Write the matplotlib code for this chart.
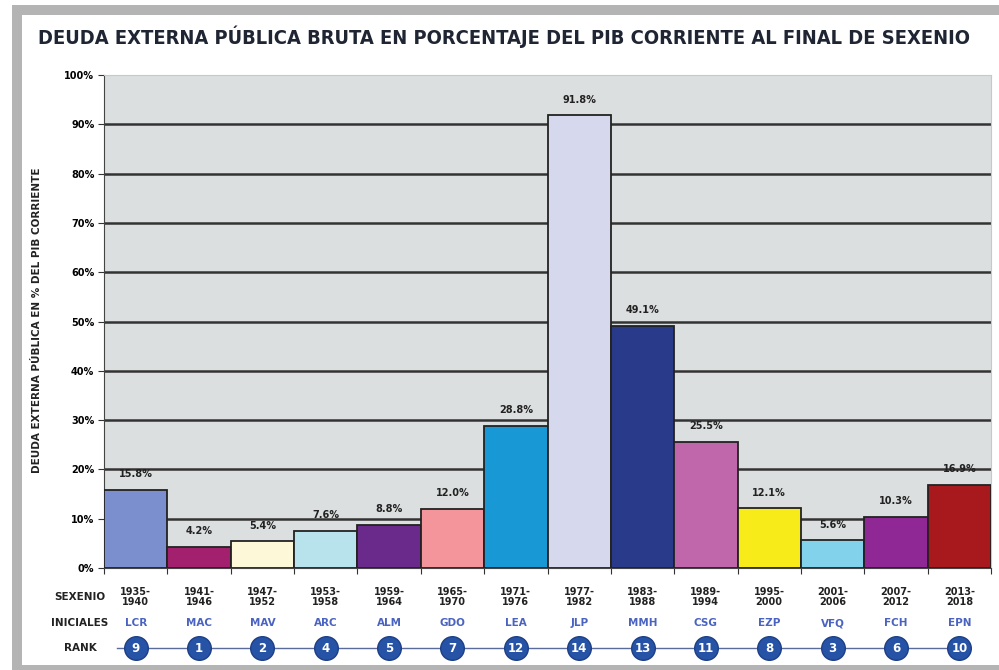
import numpy as np
import matplotlib
matplotlib.use("Agg")
from matplotlib import pyplot as plt
from matplotlib import transforms
from matplotlib.patches import Rectangle

# data
sexenios = ["1935-\n1940", "1941-\n1946", "1947-\n1952", "1953-\n1958", "1959-\n1964",
            "1965-\n1970", "1971-\n1976", "1977-\n1982", "1983-\n1988", "1989-\n1994",
            "1995-\n2000", "2001-\n2006", "2007-\n2012", "2013-\n2018"]
iniciales = ["LCR", "MAC", "MAV", "ARC", "ALM", "GDO", "LEA",
             "JLP", "MMH", "CSG", "EZP", "VFQ", "FCH", "EPN"]
deuda = [15.8, 4.2, 5.4, 7.6, 8.8, 12.0, 28.8, 91.8, 49.1, 25.5, 12.1, 5.6, 10.3, 16.9]
rank = [9, 1, 2, 4, 5, 7, 12, 14, 13, 11, 8, 3, 6, 10]
colores = ["#7b8fcf", "#a3206f", "#fdf8d8", "#b8e3ec", "#6a2a8c", "#f4959c", "#1899d6",
           "#d6d8ee", "#2a3a8a", "#c066ab", "#f7ec1a", "#82d2eb", "#8f2795", "#a8191e"]
yticks = np.arange(0, 101, 10)

W, H = 999, 670
fig = plt.figure(figsize=(W / 100, H / 100), dpi=100)
fig.patch.set_facecolor("white")

# gray frame around the panel (open on the right)
fig.patches.append(Rectangle((12 / W, 0), 1, 1 - 5 / H, transform=fig.transFigure,
                             facecolor="#b4b4b4", edgecolor="none", zorder=-3))
fig.patches.append(Rectangle((22 / W, 5 / H), 1, 1 - 20 / H, transform=fig.transFigure,
                             facecolor="white", edgecolor="none", zorder=-2))

ax = fig.add_axes([104 / W, 1 - 568 / H, (991 - 104) / W, (568 - 75) / H])
ax.set_facecolor("#dcdfe0")

x = np.arange(len(deuda))
# gridlines (none at 100%)
ax.hlines(yticks[1:-1], -0.5, len(deuda) - 0.5, color="#333333", linewidth=1.8, zorder=1)
ax.bar(x, deuda, width=1.0, color=colores, edgecolor="#222222", linewidth=1.3, zorder=3)
for xi, v in zip(x, deuda):
    ax.text(xi, v + 2.2, f"{v:.1f}%", ha="center", va="bottom", fontsize=7,
            fontweight="bold", color="#222222", zorder=4)

ax.set_xlim(-0.5, len(deuda) - 0.5)
ax.set_ylim(0, 100)
ax.set_yticks(yticks)
ax.set_yticklabels([f"{t}%" for t in yticks], fontsize=7, fontweight="bold")
ax.set_xticks(np.arange(len(deuda) + 1) - 0.5)
ax.set_xticklabels([])
ax.tick_params(axis="x", length=4, color="#333333")
ax.tick_params(axis="y", length=4, color="#333333", pad=3)
for s in ["top", "right"]:
    ax.spines[s].set_color("#c8c8c8")
    ax.spines[s].set_linewidth(0.8)
ax.spines["left"].set_color("#444444")
ax.spines["bottom"].set_color("#444444")

fig.text(37 / W, 1 - 320 / H, "DEUDA EXTERNA PÚBLICA EN % DEL PIB CORRIENTE", rotation=90,
         ha="center", va="center", fontsize=7.5, fontweight="bold", color="#222222")

fig.text(504 / W, 1 - 37 / H,
         "DEUDA EXTERNA PÚBLICA BRUTA EN PORCENTAJE DEL PIB CORRIENTE AL FINAL DE SEXENIO",
         ha="center", va="center", fontsize=14.4, fontweight="bold", fontstretch="condensed",
         color="#1f2533")

# table under the chart
tr = transforms.blended_transform_factory(ax.transData, fig.transFigure)
lab_x = 80 / W
fig.text(lab_x, 1 - 597 / H, "SEXENIO", ha="center", va="center", fontsize=7.5,
         fontweight="bold", color="#222222")
fig.text(lab_x, 1 - 623 / H, "INICIALES", ha="center", va="center", fontsize=7.5,
         fontweight="bold", color="#222222")
fig.text(lab_x, 1 - 648 / H, "RANK", ha="center", va="center", fontsize=7.5,
         fontweight="bold", color="#222222")

for xi, s, ini in zip(x, sexenios, iniciales):
    ax.text(xi, 1 - 597 / H, s, transform=tr, ha="center", va="center", fontsize=7,
            fontweight="bold", color="#222222", linespacing=1.1)
    ax.text(xi, 1 - 623 / H, ini, transform=tr, ha="center", va="center", fontsize=7.5,
            fontweight="bold", color="#4a63c0")

ax.plot([-0.3, x[-1]], [1 - 648 / H] * 2, transform=tr, color="#5a6a9a",
        linewidth=1, clip_on=False, zorder=1)
ax.plot(x, [1 - 648 / H] * len(x), "o", transform=tr, markersize=17,
        markerfacecolor="#2653a6", markeredgecolor="#1d3f86", clip_on=False, zorder=2)
for xi, r in zip(x, rank):
    ax.text(xi, 1 - 648 / H, str(r), transform=tr, ha="center", va="center",
            fontsize=8.5, fontweight="bold", color="white", zorder=3)

fig.savefig("out.png", dpi=100)
